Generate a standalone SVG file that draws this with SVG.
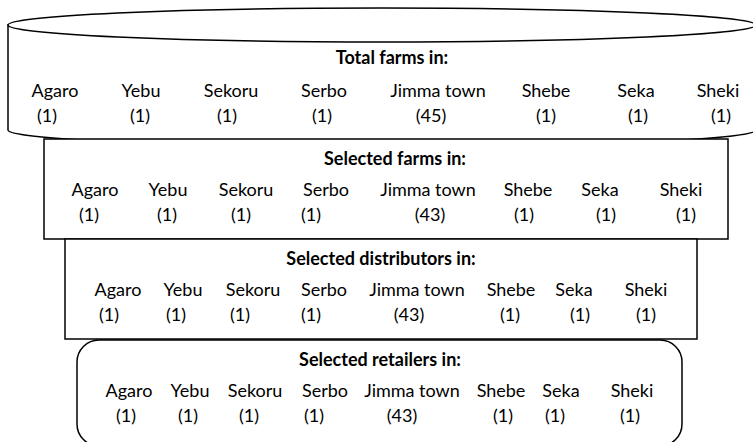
<svg xmlns="http://www.w3.org/2000/svg" width="753" height="442" viewBox="0 0 753 442">
<style>
.s{fill:#fff;stroke:#000;stroke-width:1.5}
.t{font-family:Lato,"Liberation Sans",sans-serif;font-size:18px;fill:#000;text-anchor:middle}
.h{font-weight:bold}
</style>
<rect width="753" height="442" fill="#fff"/>
<g id="total">
<path class="s" d="M8,25 L8,130 A374,17 0 0 0 756,130 L756,25 Z"/>
<ellipse class="s" cx="382" cy="25" rx="374" ry="17"/>
<text class="t h" x="392" y="64">Total farms in:</text>
<text class="t" y="97"><tspan x="55">Agaro</tspan><tspan x="141">Yebu</tspan><tspan x="231">Sekoru</tspan><tspan x="324">Serbo</tspan><tspan x="438">Jimma town</tspan><tspan x="546">Shebe</tspan><tspan x="636">Seka</tspan><tspan x="718">Sheki</tspan></text>
<text class="t" y="122"><tspan x="47">(1)</tspan><tspan x="140">(1)</tspan><tspan x="227">(1)</tspan><tspan x="322">(1)</tspan><tspan x="431">(45)</tspan><tspan x="546">(1)</tspan><tspan x="638">(1)</tspan><tspan x="721">(1)</tspan></text>
</g>
<g id="farms">
<rect class="s" x="44" y="139" width="684" height="100"/>
<text class="t h" x="395" y="165">Selected farms in:</text>
<text class="t" y="196"><tspan x="95">Agaro</tspan><tspan x="168">Yebu</tspan><tspan x="246">Sekoru</tspan><tspan x="326">Serbo</tspan><tspan x="428">Jimma town</tspan><tspan x="528">Shebe</tspan><tspan x="600">Seka</tspan><tspan x="681">Sheki</tspan></text>
<text class="t" y="221"><tspan x="89">(1)</tspan><tspan x="167">(1)</tspan><tspan x="241">(1)</tspan><tspan x="311">(1)</tspan><tspan x="430">(43)</tspan><tspan x="524">(1)</tspan><tspan x="606">(1)</tspan><tspan x="686">(1)</tspan></text>
</g>
<g id="distributors">
<rect class="s" x="65" y="239" width="632" height="100"/>
<text class="t h" x="381" y="265">Selected distributors in:</text>
<text class="t" y="296"><tspan x="118">Agaro</tspan><tspan x="183">Yebu</tspan><tspan x="253">Sekoru</tspan><tspan x="324">Serbo</tspan><tspan x="417">Jimma town</tspan><tspan x="511">Shebe</tspan><tspan x="574">Seka</tspan><tspan x="646">Sheki</tspan></text>
<text class="t" y="321"><tspan x="109">(1)</tspan><tspan x="176">(1)</tspan><tspan x="240">(1)</tspan><tspan x="311">(1)</tspan><tspan x="409">(43)</tspan><tspan x="510">(1)</tspan><tspan x="580">(1)</tspan><tspan x="646">(1)</tspan></text>
</g>
<g id="retailers">
<rect class="s" x="77" y="340" width="605" height="106" rx="22" ry="22"/>
<text class="t h" x="380" y="366">Selected retailers in:</text>
<text class="t" y="397"><tspan x="129">Agaro</tspan><tspan x="190">Yebu</tspan><tspan x="255">Sekoru</tspan><tspan x="325">Serbo</tspan><tspan x="412">Jimma town</tspan><tspan x="501">Shebe</tspan><tspan x="561">Seka</tspan><tspan x="632">Sheki</tspan></text>
<text class="t" y="422"><tspan x="126">(1)</tspan><tspan x="188">(1)</tspan><tspan x="249">(1)</tspan><tspan x="314">(1)</tspan><tspan x="402">(43)</tspan><tspan x="503">(1)</tspan><tspan x="555">(1)</tspan><tspan x="630">(1)</tspan></text>
</g>
<g id="connectors"></g>
</svg>
